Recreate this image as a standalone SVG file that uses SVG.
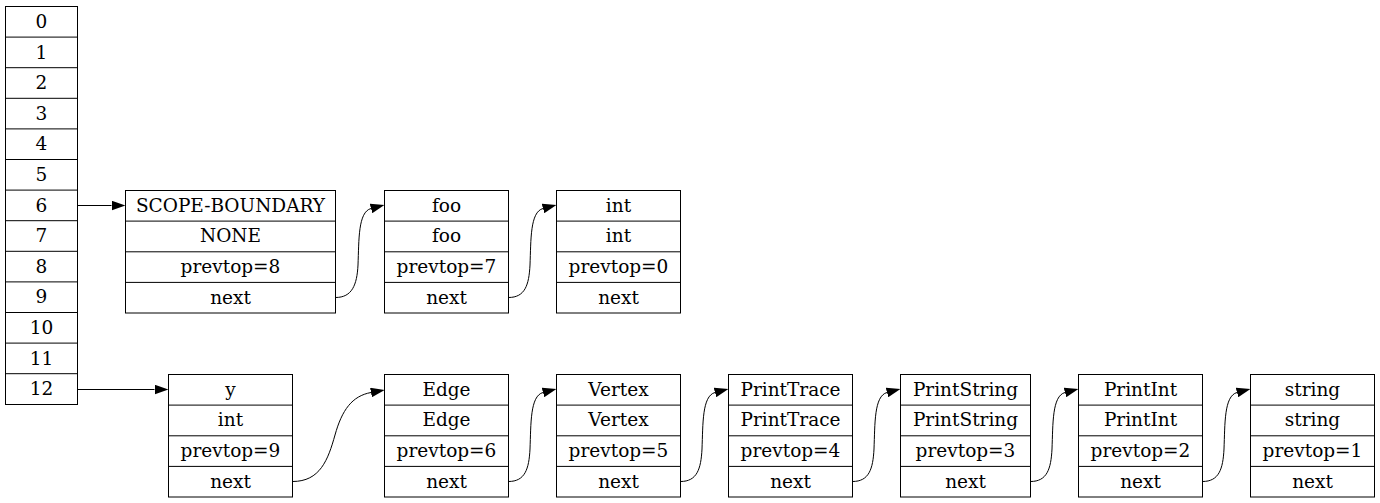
<svg xmlns="http://www.w3.org/2000/svg" width="1380" height="503" viewBox="0 0 1380 503">
<style>
rect.b{fill:#fff;stroke:#000;stroke-width:1}
line.s{stroke:#000;stroke-width:1}
text{font-family:"DejaVu Serif",serif;font-size:18.5px;text-anchor:middle;fill:#000}
.e{fill:none;stroke:#000;stroke-width:1}
</style>
<defs>
<marker id="ah" markerUnits="userSpaceOnUse" markerWidth="14" markerHeight="10" refX="0" refY="4.67" orient="auto" viewBox="0 0 13.4 9.34">
<path d="M0,0 L13.3,4.67 L0,9.34 z" fill="#000" stroke="none"/>
</marker>
</defs>
<rect width="1380" height="503" fill="#fff"/>
<g id="stack">
<rect class="b" x="5.5" y="6.5" width="72" height="398"/>
<line class="s" x1="5.5" y1="37.1" x2="77.5" y2="37.1"/>
<line class="s" x1="5.5" y1="67.7" x2="77.5" y2="67.7"/>
<line class="s" x1="5.5" y1="98.3" x2="77.5" y2="98.3"/>
<line class="s" x1="5.5" y1="128.9" x2="77.5" y2="128.9"/>
<line class="s" x1="5.5" y1="159.5" x2="77.5" y2="159.5"/>
<line class="s" x1="5.5" y1="190.1" x2="77.5" y2="190.1"/>
<line class="s" x1="5.5" y1="220.7" x2="77.5" y2="220.7"/>
<line class="s" x1="5.5" y1="251.3" x2="77.5" y2="251.3"/>
<line class="s" x1="5.5" y1="281.9" x2="77.5" y2="281.9"/>
<line class="s" x1="5.5" y1="312.5" x2="77.5" y2="312.5"/>
<line class="s" x1="5.5" y1="343.1" x2="77.5" y2="343.1"/>
<line class="s" x1="5.5" y1="373.7" x2="77.5" y2="373.7"/>
<text x="41.5" y="28">0</text>
<text x="41.5" y="58.6">1</text>
<text x="41.5" y="89.2">2</text>
<text x="41.5" y="119.8">3</text>
<text x="41.5" y="150.4">4</text>
<text x="41.5" y="181">5</text>
<text x="41.5" y="211.6">6</text>
<text x="41.5" y="242.2">7</text>
<text x="41.5" y="272.8">8</text>
<text x="41.5" y="303.4">9</text>
<text x="41.5" y="334">10</text>
<text x="41.5" y="364.6">11</text>
<text x="41.5" y="395.2">12</text>
</g>
<g id="n_scope">
<rect class="b" x="125.5" y="190.5" width="210" height="122.5"/>
<line class="s" x1="125.5" y1="221.1" x2="335.5" y2="221.1"/>
<line class="s" x1="125.5" y1="251.8" x2="335.5" y2="251.8"/>
<line class="s" x1="125.5" y1="282.4" x2="335.5" y2="282.4"/>
<text x="230.5" y="211.6">SCOPE-BOUNDARY</text>
<text x="230.5" y="242.3">NONE</text>
<text x="230.5" y="273">prevtop=8</text>
<text x="230.5" y="303.6">next</text>
</g>
<g id="n_foo">
<rect class="b" x="384.5" y="190.5" width="124" height="122.5"/>
<line class="s" x1="384.5" y1="221.1" x2="508.5" y2="221.1"/>
<line class="s" x1="384.5" y1="251.8" x2="508.5" y2="251.8"/>
<line class="s" x1="384.5" y1="282.4" x2="508.5" y2="282.4"/>
<text x="446.5" y="211.6">foo</text>
<text x="446.5" y="242.3">foo</text>
<text x="446.5" y="273">prevtop=7</text>
<text x="446.5" y="303.6">next</text>
</g>
<g id="n_int">
<rect class="b" x="556.5" y="190.5" width="124" height="122.5"/>
<line class="s" x1="556.5" y1="221.1" x2="680.5" y2="221.1"/>
<line class="s" x1="556.5" y1="251.8" x2="680.5" y2="251.8"/>
<line class="s" x1="556.5" y1="282.4" x2="680.5" y2="282.4"/>
<text x="618.5" y="211.6">int</text>
<text x="618.5" y="242.3">int</text>
<text x="618.5" y="273">prevtop=0</text>
<text x="618.5" y="303.6">next</text>
</g>
<g id="n_y">
<rect class="b" x="168.5" y="374.5" width="124" height="122.5"/>
<line class="s" x1="168.5" y1="405.1" x2="292.5" y2="405.1"/>
<line class="s" x1="168.5" y1="435.8" x2="292.5" y2="435.8"/>
<line class="s" x1="168.5" y1="466.4" x2="292.5" y2="466.4"/>
<text x="230.5" y="395.6">y</text>
<text x="230.5" y="426.3">int</text>
<text x="230.5" y="457">prevtop=9</text>
<text x="230.5" y="487.6">next</text>
</g>
<g id="n_edge">
<rect class="b" x="384.5" y="374.5" width="124" height="122.5"/>
<line class="s" x1="384.5" y1="405.1" x2="508.5" y2="405.1"/>
<line class="s" x1="384.5" y1="435.8" x2="508.5" y2="435.8"/>
<line class="s" x1="384.5" y1="466.4" x2="508.5" y2="466.4"/>
<text x="446.5" y="395.6">Edge</text>
<text x="446.5" y="426.3">Edge</text>
<text x="446.5" y="457">prevtop=6</text>
<text x="446.5" y="487.6">next</text>
</g>
<g id="n_vertex">
<rect class="b" x="556.5" y="374.5" width="124" height="122.5"/>
<line class="s" x1="556.5" y1="405.1" x2="680.5" y2="405.1"/>
<line class="s" x1="556.5" y1="435.8" x2="680.5" y2="435.8"/>
<line class="s" x1="556.5" y1="466.4" x2="680.5" y2="466.4"/>
<text x="618.5" y="395.6">Vertex</text>
<text x="618.5" y="426.3">Vertex</text>
<text x="618.5" y="457">prevtop=5</text>
<text x="618.5" y="487.6">next</text>
</g>
<g id="n_printtrace">
<rect class="b" x="728.5" y="374.5" width="124" height="122.5"/>
<line class="s" x1="728.5" y1="405.1" x2="852.5" y2="405.1"/>
<line class="s" x1="728.5" y1="435.8" x2="852.5" y2="435.8"/>
<line class="s" x1="728.5" y1="466.4" x2="852.5" y2="466.4"/>
<text x="790.5" y="395.6">PrintTrace</text>
<text x="790.5" y="426.3">PrintTrace</text>
<text x="790.5" y="457">prevtop=4</text>
<text x="790.5" y="487.6">next</text>
</g>
<g id="n_printstring">
<rect class="b" x="900.5" y="374.5" width="130" height="122.5"/>
<line class="s" x1="900.5" y1="405.1" x2="1030.5" y2="405.1"/>
<line class="s" x1="900.5" y1="435.8" x2="1030.5" y2="435.8"/>
<line class="s" x1="900.5" y1="466.4" x2="1030.5" y2="466.4"/>
<text x="965.5" y="395.6">PrintString</text>
<text x="965.5" y="426.3">PrintString</text>
<text x="965.5" y="457">prevtop=3</text>
<text x="965.5" y="487.6">next</text>
</g>
<g id="n_printint">
<rect class="b" x="1078.5" y="374.5" width="124" height="122.5"/>
<line class="s" x1="1078.5" y1="405.1" x2="1202.5" y2="405.1"/>
<line class="s" x1="1078.5" y1="435.8" x2="1202.5" y2="435.8"/>
<line class="s" x1="1078.5" y1="466.4" x2="1202.5" y2="466.4"/>
<text x="1140.5" y="395.6">PrintInt</text>
<text x="1140.5" y="426.3">PrintInt</text>
<text x="1140.5" y="457">prevtop=2</text>
<text x="1140.5" y="487.6">next</text>
</g>
<g id="n_string">
<rect class="b" x="1250.5" y="374.5" width="124" height="122.5"/>
<line class="s" x1="1250.5" y1="405.1" x2="1374.5" y2="405.1"/>
<line class="s" x1="1250.5" y1="435.8" x2="1374.5" y2="435.8"/>
<line class="s" x1="1250.5" y1="466.4" x2="1374.5" y2="466.4"/>
<text x="1312.5" y="395.6">string</text>
<text x="1312.5" y="426.3">string</text>
<text x="1312.5" y="457">prevtop=1</text>
<text x="1312.5" y="487.6">next</text>
</g>
<g id="connectors">
<path class="e" marker-end="url(#ah)" d="M77.5,205.5 L111.5,205.5"/>
<path class="e" marker-end="url(#ah)" d="M77.5,389.5 L154.5,389.5"/>
<path class="e" marker-end="url(#ah)" d="M335.5,297.5 C352,297.5 357,285 358,265 C359,240 358,212 371,208.5"/>
<path class="e" marker-end="url(#ah)" d="M508.5,297.5 C525,297.5 529,285 530,265 C531,240 530,212 543,208.5"/>
<path class="e" marker-end="url(#ah)" d="M292.5,481.5 C320,481.5 328,460 335,435 C342,410 352,396 371,392.5"/>
<path class="e" marker-end="url(#ah)" d="M508.5,481.5 C525,481.5 529,469 530,449 C531,424 530,396 543,392.5"/>
<path class="e" marker-end="url(#ah)" d="M680.5,481.5 C697,481.5 701,469 702,449 C703,424 702,396 715,392.5"/>
<path class="e" marker-end="url(#ah)" d="M852.5,481.5 C869,481.5 873,469 874,449 C875,424 874,396 887,392.5"/>
<path class="e" marker-end="url(#ah)" d="M1030.5,481.5 C1047,481.5 1051,469 1052,449 C1053,424 1052,396 1065,392.5"/>
<path class="e" marker-end="url(#ah)" d="M1202.5,481.5 C1219,481.5 1223,469 1224,449 C1225,424 1224,396 1237,392.5"/>
</g>
</svg>
